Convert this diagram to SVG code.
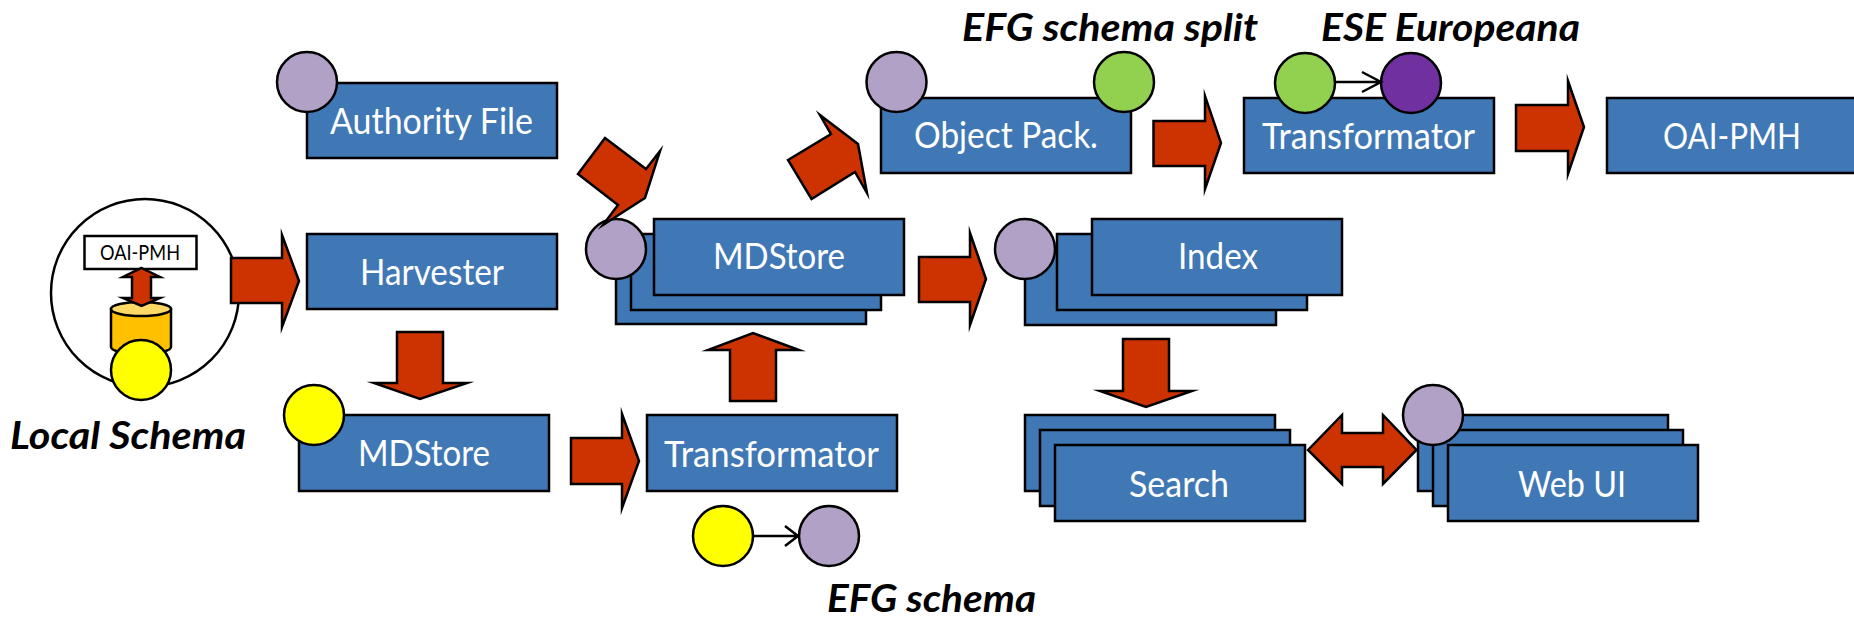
<svg xmlns="http://www.w3.org/2000/svg" width="1854" height="620" viewBox="0 0 1854 620">
<style>
.b{fill:#3f78b4;stroke:#000;stroke-width:2.5}
.c{stroke:#000;stroke-width:2.5}
.p{fill:#b2a1c7}.y{fill:#ff0}.g{fill:#92d050}.d{fill:#7030a0}
.r{fill:#cc3300;stroke:#000;stroke-width:2.5;stroke-miterlimit:10}
.t{font-family:"Lato","Liberation Sans",sans-serif;font-size:36px;fill:#fff}
.h{font-family:"Lato","Liberation Sans",sans-serif;font-size:38px;font-weight:700;font-style:italic;fill:#000}
.l{fill:none;stroke:#000;stroke-width:2.5}
</style>
<rect width="1854" height="620" fill="#fff"/>
<g id="local-source">
<circle cx="145" cy="293" r="94" fill="#fff" stroke="#000" stroke-width="2.5"/>
<rect x="84.500" y="236" width="112" height="33" fill="#fff" stroke="#000" stroke-width="2.500"/>
<text x="100" y="260" font-family="Lato,'Liberation Sans',sans-serif" font-size="21" fill="#000" textLength="80" lengthAdjust="spacingAndGlyphs">OAI-PMH</text>
<path d="M111 309V347A30 7 0 0 0 171 347V309Z" fill="#ffc000" stroke="#000" stroke-width="2.5"/>
<ellipse cx="141" cy="309" rx="30" ry="7" fill="#ffd966" stroke="#000" stroke-width="2.500"/>
<circle class="c y" cx="141" cy="370" r="30"/>
</g>
<g id="authority-file">
<rect class="b" x="307" y="83" width="250" height="75"/>
<circle class="c p" cx="307" cy="82" r="30"/>
<text class="t" x="330" y="134" textLength="203" lengthAdjust="spacingAndGlyphs">Authority File</text>
</g>
<g id="harvester">
<rect class="b" x="307" y="234" width="250" height="75"/>
<text class="t" x="360" y="285" textLength="144" lengthAdjust="spacingAndGlyphs">Harvester</text>
</g>
<g id="mdstore-local">
<rect class="b" x="299" y="415" width="250" height="76"/>
<circle class="c y" cx="314" cy="415" r="30"/>
<text class="t" x="358" y="466" textLength="132" lengthAdjust="spacingAndGlyphs">MDStore</text>
</g>
<g id="transformator-efg">
<rect class="b" x="647" y="415" width="250" height="76"/>
<text class="t" x="664" y="467" textLength="215" lengthAdjust="spacingAndGlyphs">Transformator</text>
<circle class="c y" cx="723" cy="536" r="30"/>
<circle class="c p" cx="829" cy="536" r="30"/>
<path class="l" d="M753 536H798M785 526L798 536L785 546"/>
<text class="h" x="827" y="612" textLength="209" lengthAdjust="spacingAndGlyphs">EFG schema</text>
</g>
<g id="mdstore-efg">
<rect class="b" x="616" y="249" width="250" height="75"/>
<rect class="b" x="631" y="234" width="250" height="76"/>
<rect class="b" x="654" y="219" width="250" height="76"/>
<circle class="c p" cx="616" cy="249" r="30"/>
<text class="t" x="713" y="269" textLength="132" lengthAdjust="spacingAndGlyphs">MDStore</text>
</g>
<g id="object-pack">
<rect class="b" x="881" y="98" width="250" height="75"/>
<circle class="c p" cx="896.500" cy="82" r="30"/>
<circle class="c g" cx="1124" cy="82" r="30"/>
<text class="t" x="914" y="148" textLength="184" lengthAdjust="spacingAndGlyphs">Object Pack.</text>
<text class="h" x="962" y="41" textLength="296" lengthAdjust="spacingAndGlyphs">EFG schema split</text>
</g>
<g id="transformator-ese">
<rect class="b" x="1244" y="98" width="250" height="75"/>
<circle class="c g" cx="1305" cy="83" r="30"/>
<circle class="c d" cx="1411" cy="83" r="30"/>
<path class="l" d="M1335 82H1381M1362 72L1381 82L1362 92"/>
<text class="t" x="1262" y="149" textLength="213" lengthAdjust="spacingAndGlyphs">Transformator</text>
<text class="h" x="1321" y="41" textLength="259" lengthAdjust="spacingAndGlyphs">ESE Europeana</text>
</g>
<g id="oai-pmh">
<rect class="b" x="1607" y="98" width="250" height="75"/>
<text class="t" x="1663" y="149" textLength="138" lengthAdjust="spacingAndGlyphs">OAI-PMH</text>
</g>
<g id="index">
<rect class="b" x="1025" y="249" width="251" height="76"/>
<rect class="b" x="1057" y="234" width="250" height="76"/>
<rect class="b" x="1092" y="219" width="250" height="76"/>
<circle class="c p" cx="1025" cy="249" r="30"/>
<text class="t" x="1178" y="269" textLength="80" lengthAdjust="spacingAndGlyphs">Index</text>
</g>
<g id="search">
<rect class="b" x="1025" y="415" width="250" height="76"/>
<rect class="b" x="1040" y="430" width="250" height="76"/>
<rect class="b" x="1055" y="445" width="250" height="76"/>
<text class="t" x="1129" y="497" textLength="100" lengthAdjust="spacingAndGlyphs">Search</text>
</g>
<g id="web-ui">
<rect class="b" x="1418" y="415" width="250" height="76"/>
<rect class="b" x="1433" y="430" width="250" height="76"/>
<rect class="b" x="1448" y="445" width="250" height="76"/>
<circle class="c p" cx="1433" cy="415" r="30"/>
<text class="t" x="1518" y="497" textLength="108" lengthAdjust="spacingAndGlyphs">Web UI</text>
</g>
<text class="h" x="10" y="449" textLength="236" lengthAdjust="spacingAndGlyphs">Local Schema</text>
<g id="connectors">
<polygon class="r" points="141.500,268 160,277 151,277 151,298 160,298 141.500,306 123,298 132,298 132,277 123,277"/>
<polygon class="r" points="231,258 282,258 282,235 299,281 282,327 282,303 231,303"/>
<polygon class="r" points="397,332 443,332 443,383 467,383 420,399 374,383 397,383"/>
<polygon class="r" points="571,438 622,438 622,414 639,461 622,508 622,484 571,484"/>
<polygon class="r" points="730,401 730,350 708,350 753,333 799,350 776,350 776,401"/>
<polygon class="r" points="605,138 646,169 660,151 645,198 603,225 618,205 578,174"/>
<polygon class="r" points="788,160 831,134 820,115 858,144 867,193 855,172 811.500,199"/>
<polygon class="r" points="919,257 970,257 970,233 986,279 970,325 970,302 919,302"/>
<polygon class="r" points="1153.500,121 1205,121 1205,96 1221,143 1205,189 1205,166 1153.500,166"/>
<polygon class="r" points="1516,105 1568,105 1568,81 1584,127 1568,174 1568,151 1516,151"/>
<polygon class="r" points="1123,339 1169,339 1169,391 1192,391 1146,407 1100,391 1123,391"/>
<polygon class="r" points="1308,450 1342,415 1342,433 1383,433 1383,415 1416.500,450 1383,484 1383,467 1342,467 1342,484"/>
</g>
</svg>
